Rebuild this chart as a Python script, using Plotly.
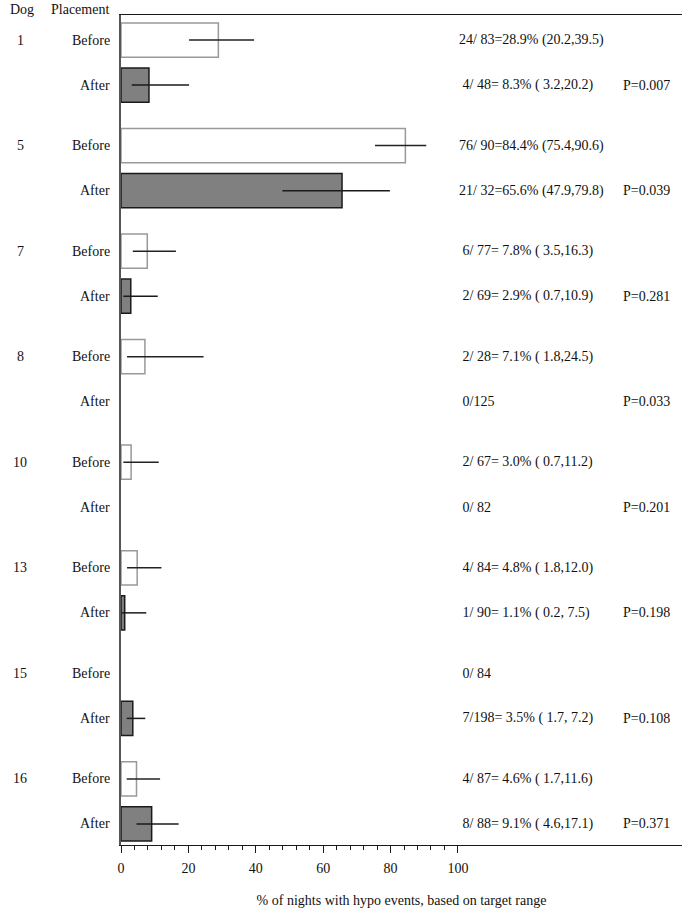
import plotly.graph_objects as go

dogs = ["1", "5", "7", "8", "10", "13", "15", "16"]
before_events = [24, 76, 6, 2, 2, 4, 0, 4]
before_nights = [83, 90, 77, 28, 67, 84, 84, 87]
before_pct = [28.9, 84.4, 7.8, 7.1, 3.0, 4.8, None, 4.6]
before_lo = [20.2, 75.4, 3.5, 1.8, 0.7, 1.8, None, 1.7]
before_hi = [39.5, 90.6, 16.3, 24.5, 11.2, 12.0, None, 11.6]

after_events = [4, 21, 2, 0, 0, 1, 7, 8]
after_nights = [48, 32, 69, 125, 82, 90, 198, 88]
after_pct = [8.3, 65.6, 2.9, None, None, 1.1, 3.5, 9.1]
after_lo = [3.2, 47.9, 0.7, None, None, 0.2, 1.7, 4.6]
after_hi = [20.2, 79.8, 10.9, None, None, 7.5, 7.2, 17.1]

p_values = ["0.007", "0.039", "0.281", "0.033", "0.201", "0.198", "0.108", "0.371"]

x_ticks = [0, 20, 40, 60, 80, 100]
x_title = "% of nights with hypo events, based on target range"

FONT = "Liberation Serif, Times New Roman, serif"
FS = 14
GROUP = 2.342

y_before = [i * GROUP for i in range(len(dogs))]
y_after = [i * GROUP + 1 for i in range(len(dogs))]


def err(p, lo, hi):
    plus = [None if v is None else h - v for v, h in zip(p, hi)]
    minus = [None if v is None else v - l for v, l in zip(p, lo)]
    return plus, minus


def label(e, n, p, lo, hi):
    if p is None:
        s = f"{e:>2}/{n:>3}"
    else:
        s = f"{e:>2}/{n:>3}={p:>4.1f}% ({lo:>4.1f},{hi:>4.1f})"
    return s.replace(" ", "\u00a0")


bp, bm = err(before_pct, before_lo, before_hi)
ap, am = err(after_pct, after_lo, after_hi)

fig = go.Figure()
fig.add_trace(go.Bar(
    y=y_before, x=before_pct, orientation="h", width=0.76,
    marker=dict(color="white", line=dict(color="#999999", width=1.5)),
    error_x=dict(type="data", symmetric=False, array=bp, arrayminus=bm,
                 width=0, thickness=1.5, color="#222222"),
    showlegend=False, hoverinfo="skip",
))
fig.add_trace(go.Bar(
    y=y_after, x=after_pct, orientation="h", width=0.76,
    marker=dict(color="#808080", line=dict(color="#1a1a1a", width=1.5)),
    error_x=dict(type="data", symmetric=False, array=ap, arrayminus=am,
                 width=0, thickness=1.5, color="#1a1a1a"),
    showlegend=False, hoverinfo="skip",
))

PL, PR, PT, PB = 121, 682, 15, 845
W_PLOT = PR - PL
H_PLOT = PB - PT


def px2paper(px):
    return (px - PL) / W_PLOT


ann = []
tfont = dict(family=FONT, size=FS, color="#111111")
for i, d in enumerate(dogs):
    ann.append(dict(x=px2paper(20), xref="paper", y=y_before[i], yref="y",
                    text=d, showarrow=False, xanchor="center", yanchor="middle", font=tfont))
    ann.append(dict(x=px2paper(112), xref="paper", y=y_before[i], yref="y",
                    text="Before", showarrow=False, xanchor="right", yanchor="middle", font=tfont))
    ann.append(dict(x=px2paper(112), xref="paper", y=y_after[i], yref="y",
                    text="After", showarrow=False, xanchor="right", yanchor="middle", font=tfont))
    ann.append(dict(x=px2paper(457), xref="paper", y=y_before[i], yref="y",
                    text=label(before_events[i], before_nights[i], before_pct[i], before_lo[i], before_hi[i]),
                    showarrow=False, xanchor="left", yanchor="middle", font=tfont))
    ann.append(dict(x=px2paper(457), xref="paper", y=y_after[i], yref="y",
                    text=label(after_events[i], after_nights[i], after_pct[i], after_lo[i], after_hi[i]),
                    showarrow=False, xanchor="left", yanchor="middle", font=tfont))
    ann.append(dict(x=px2paper(621), xref="paper", y=y_after[i], yref="y",
                    text="P=" + p_values[i], showarrow=False, xanchor="left", yanchor="middle", font=tfont))

ann.append(dict(x=px2paper(22), xref="paper", y=1 + 5 / H_PLOT, yref="paper", text="Dog",
                showarrow=False, xanchor="center", yanchor="middle", font=tfont))
ann.append(dict(x=px2paper(111), xref="paper", y=1 + 5 / H_PLOT, yref="paper", text="Placement",
                showarrow=False, xanchor="right", yanchor="middle", font=tfont))

top = -0.556
bottom = (len(dogs) - 1) * GROUP + 1 + 0.467

fig.update_layout(
    width=686, height=911,
    margin=dict(l=PL, r=686 - PR, t=PT, b=911 - PB),
    paper_bgcolor="white", plot_bgcolor="white",
    font=tfont,
    annotations=ann,
    barmode="overlay",
    xaxis=dict(
        range=[0, 166.5], showgrid=False, zeroline=False,
        showline=True, mirror=True, linecolor="#1a1a1a", linewidth=1.2,
        tickmode="array", tickvals=x_ticks, ticktext=[str(v) for v in x_ticks],
        ticks="outside", ticklen=7, tickwidth=1.2, tickcolor="#1a1a1a",
        minor=dict(tickvals=[v for v in range(4, 100, 4) if v % 20 != 0],
                   ticks="outside", ticklen=4, tickwidth=1.2, tickcolor="#1a1a1a"),
        tickfont=tfont, ticklabelstandoff=3,
        title=dict(text=x_title, font=tfont, standoff=20),
        fixedrange=True,
    ),
    yaxis=dict(
        range=[bottom, top], showgrid=False, zeroline=False,
        showline=True, linecolor="#555555", linewidth=1.5,
        showticklabels=False, ticks="", fixedrange=True,
    ),
)

fig.write_html(
    "out.html",
    config={"displayModeBar": False},
    post_script="document.body.style.margin='0';document.body.style.overflow='hidden';",
)
